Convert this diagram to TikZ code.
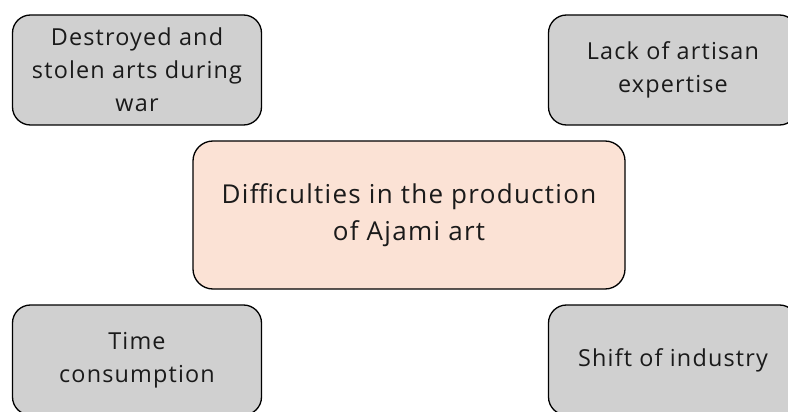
\documentclass[tikz,border=0pt]{standalone}
\usepackage{fontspec}
\setmainfont{Open Sans}[LetterSpace=5]
\definecolor{boxgrey}{HTML}{D0D0D0}
\definecolor{centrefill}{HTML}{FBE2D5}
\definecolor{textdark}{HTML}{1A1A1A}
\tikzset{
  smallbox/.style={draw=black, line width=1.3pt, fill=boxgrey, rounded corners=18pt,
    minimum width=249pt, minimum height=110pt, align=center, text=textdark,
    font=\fontsize{23.4}{33}\selectfont},
  bigbox/.style={draw=black, line width=1.3pt, fill=centrefill, rounded corners=20pt,
    minimum width=432pt, minimum height=148pt, align=center, text=textdark,
    font=\fontsize{26}{37}\selectfont}
}
\begin{document}
\begin{tikzpicture}[x=1pt,y=-1pt]
  \useasboundingbox (0,0) rectangle (788,412);
  \clip (0,0) rectangle (788,412);
  \fill[white] (0,0) rectangle (788,412);
  \node[bigbox] (centre) at (409,215) {Difficulties in the production\\of Ajami art};
  \node[smallbox] (tl) at (137,70) {Destroyed and\\stolen arts during\\war};
  \node[smallbox] (tr) at (673,70) {Lack of artisan\\expertise};
  \node[smallbox] (bl) at (137,360) {Time\\consumption};
  \node[smallbox] (br) at (673,360) {Shift of industry};
\end{tikzpicture}
\end{document}
